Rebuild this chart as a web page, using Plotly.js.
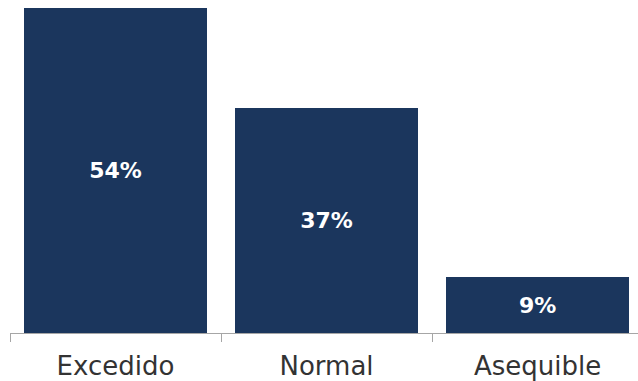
<!DOCTYPE html>
<html>
<head>
<meta charset="utf-8">
<script src="https://cdn.plot.ly/plotly-3.0.1.min.js"></script>
<style>html,body{margin:0;padding:0;background:#fff;}#chart{width:638px;height:381px;}</style>
</head>
<body>
<div id="chart"></div>
<script>
const categories = ["Excedido", "Normal", "Asequible"];
const values = [54, 37.4, 9.3];
const labels = ["54%", "37%", "9%"];

const trace = {
  type: "bar",
  x: categories,
  y: values,
  text: labels,
  texttemplate: "%{text}",
  textposition: "inside",
  insidetextanchor: "middle",
  textangle: 0,
  textfont: {family: "DejaVu Sans", size: 22, color: "#ffffff", weight: "bold"},
  marker: {color: "#1b365d", line: {width: 0}},
  width: 0.867,
  hoverinfo: "none"
};

const layout = {
  width: 638,
  height: 381,
  margin: {l: 10, r: 0, t: 8, b: 48},
  paper_bgcolor: "#ffffff",
  plot_bgcolor: "#ffffff",
  showlegend: false,
  bargap: 0,
  xaxis: {
    type: "category",
    range: [-0.5, 2.476],
    tickson: "boundaries",
    ticks: "outside",
    ticklen: 8,
    tickcolor: "#a6a6a6",
    showline: true,
    linecolor: "#a6a6a6",
    linewidth: 1,
    showgrid: false,
    zeroline: false,
    ticklabelstandoff: 10,
    tickfont: {family: "DejaVu Sans", size: 26, color: "#333333"},
    fixedrange: true
  },
  yaxis: {
    range: [0, 54],
    visible: false,
    showgrid: false,
    zeroline: false,
    fixedrange: true
  }
};

Plotly.newPlot("chart", [trace], layout, {displayModeBar: false, staticPlot: true});
</script>
</body>
</html>
